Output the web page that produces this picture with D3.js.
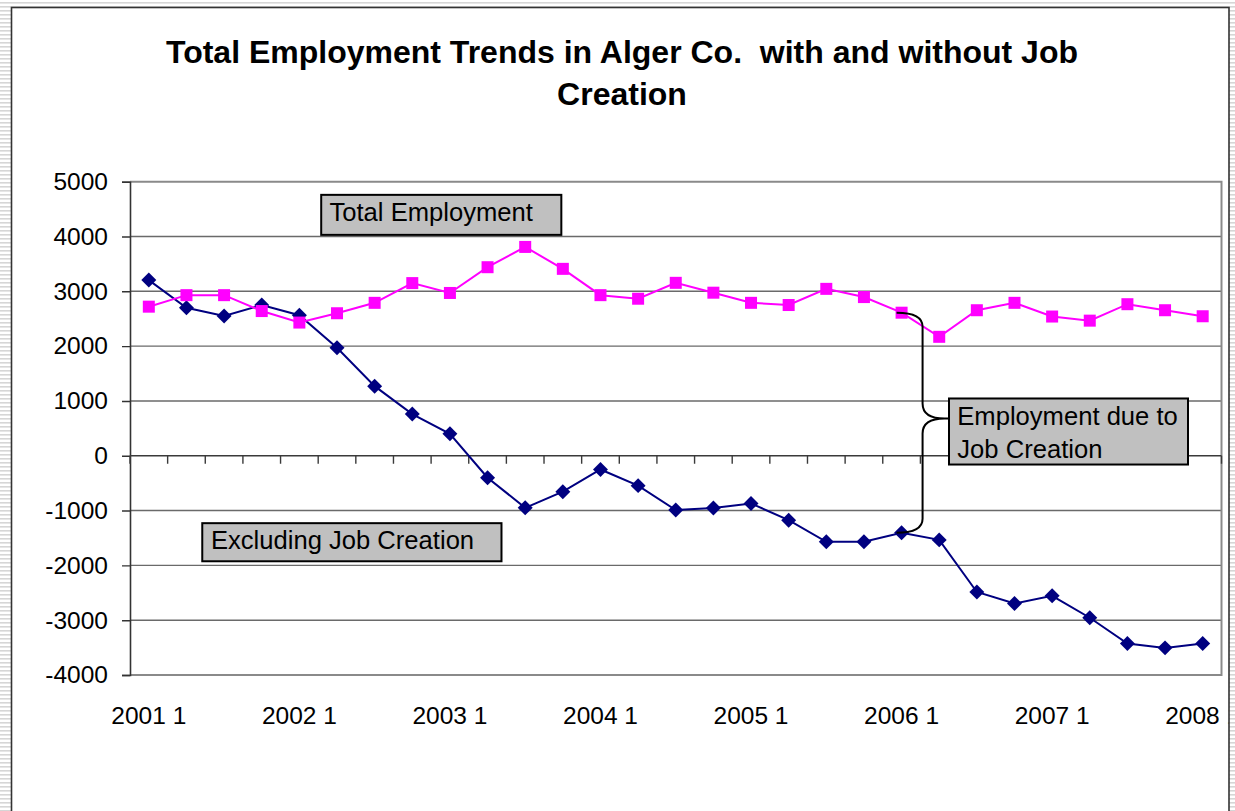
<!DOCTYPE html>
<html>
<head>
<meta charset="utf-8">
<script src="https://cdn.jsdelivr.net/npm/d3@7"></script>
<style>
  html, body { margin: 0; padding: 0; background: #fff; }
  svg { display: block; font-family: "Liberation Sans", Arial, sans-serif; }
</style>
</head>
<body>
<svg id="chart" width="1235" height="811"></svg>
<script>
// ---------------- data ----------------
const categories = [
  "2001 1","2001 2","2001 3","2001 4",
  "2002 1","2002 2","2002 3","2002 4",
  "2003 1","2003 2","2003 3","2003 4",
  "2004 1","2004 2","2004 3","2004 4",
  "2005 1","2005 2","2005 3","2005 4",
  "2006 1","2006 2","2006 3","2006 4",
  "2007 1","2007 2","2007 3","2007 4",
  "2008 1"
];
const totalEmployment = [
  2720, 2930, 2930, 2640, 2430, 2600, 2790, 3150, 2970, 3440,
  3810, 3410, 2930, 2865, 3155, 2975, 2790, 2750, 3045, 2895,
  2610, 2170, 2655, 2790, 2540, 2465, 2765, 2655, 2545
];
const excludingJobCreation = [
  3205, 2700, 2550, 2750, 2565, 1970, 1270, 760, 400, -400,
  -950, -655, -250, -545, -990, -955, -870, -1175, -1570, -1570,
  -1405, -1535, -2485, -2695, -2555, -2955, -3425, -3505, -3425
];
const yTicks = [-4000, -3000, -2000, -1000, 0, 1000, 2000, 3000, 4000, 5000];
const xTickLabels = ["2001 1","2002 1","2003 1","2004 1","2005 1","2006 1","2007 1","2008 1"];
const titleLines = ["Total Employment Trends in Alger Co.  with and without Job", "Creation"];
const seriesLabels = ["Total Employment", "Excluding Job Creation", ["Employment due to", "Job Creation"]];

// ---------------- layout ----------------
const W = 1235, H = 811;
const plot = { left: 130, right: 1221.5, top: 181.7, bottom: 675 };
const svg = d3.select("#chart");

// striped slide background
const defs = svg.append("defs");
const pat = defs.append("pattern").attr("id", "stripes")
  .attr("width", 8).attr("height", 4).attr("patternUnits", "userSpaceOnUse");
pat.append("rect").attr("width", 8).attr("height", 4).attr("fill", "#ffffff");
pat.append("rect").attr("y", 2).attr("width", 8).attr("height", 1.6).attr("fill", "#d6d6d6");
svg.append("rect").attr("width", W).attr("height", H).attr("fill", "url(#stripes)");

// chart frame
svg.append("rect").attr("x", 11.5).attr("y", 7.5).attr("width", 1217.5).attr("height", 830)
  .attr("fill", "#fff").attr("stroke", "#333").attr("stroke-width", 1.6);

defs.append("clipPath").attr("id", "frameClip")
  .append("rect").attr("x", 12.3).attr("y", 8.3).attr("width", 1216).attr("height", 830);
const g = svg.append("g").attr("clip-path", "url(#frameClip)");

// scales
const x = d3.scaleBand().domain(categories).range([plot.left, plot.right]).padding(0);
const xc = d3.scaleLinear().domain([0, categories.length]).range([plot.left, plot.right]);
const y = d3.scaleLinear().domain([-4000, 5000]).range([plot.bottom, plot.top]);
const cx = d => x(d) + x.bandwidth() / 2;

// title
const title = g.append("text").attr("text-anchor", "middle")
  .attr("font-weight", "bold").attr("font-size", 32).style("white-space", "pre");
titleLines.forEach((t, i) => {
  title.append("tspan").attr("x", 622).attr("y", 63 + i * 42).text(t);
});

// gridlines
g.append("g").selectAll("line").data(yTicks.filter(v => v !== -4000 && v !== 5000 && v !== 0))
  .join("line")
  .attr("x1", plot.left).attr("x2", plot.right)
  .attr("y1", d => y(d)).attr("y2", d => y(d))
  .attr("stroke", "#6a6a6a").attr("stroke-width", 1.4);

// plot border (top, right, bottom)
g.append("path")
  .attr("d", `M${plot.left},${y(5000)}H${plot.right}V${y(-4000)}H${plot.left}`)
  .attr("fill", "none").attr("stroke", "#8a8a8a").attr("stroke-width", 2);

// y axis
const yAxis = g.append("g").attr("transform", `translate(${plot.left},0)`)
  .call(d3.axisLeft(y).tickValues(yTicks).tickSize(8).tickPadding(14).tickFormat(d => String(d)));
yAxis.select(".domain").attr("stroke", "#333").attr("stroke-width", 1.6);
yAxis.selectAll(".tick line").attr("stroke", "#333").attr("stroke-width", 1.4);
yAxis.selectAll(".tick text").attr("font-size", 24.5).attr("fill", "#000")
  .attr("font-family", "Liberation Sans, Arial, sans-serif");

// x axis at zero: ticks between categories
const boundaries = d3.range(categories.length + 1);
g.append("line").attr("x1", plot.left).attr("x2", plot.right)
  .attr("y1", y(0)).attr("y2", y(0)).attr("stroke", "#3a3a3a").attr("stroke-width", 1.5);
g.append("g").selectAll("line").data(boundaries).join("line")
  .attr("x1", d => xc(d)).attr("x2", d => xc(d))
  .attr("y1", y(0)).attr("y2", y(0) + 8)
  .attr("stroke", "#3a3a3a").attr("stroke-width", 1.4);

// x labels at the bottom
g.append("g").selectAll("text").data(xTickLabels).join("text")
  .attr("x", d => cx(d)).attr("y", 724)
  .attr("text-anchor", "middle").attr("font-size", 24.5).attr("fill", "#000")
  .style("white-space", "pre").text(d => d);

// series lines
const line = d3.line().x((d, i) => cx(categories[i])).y(d => y(d));
g.append("path").datum(excludingJobCreation).attr("d", line)
  .attr("fill", "none").attr("stroke", "#000080").attr("stroke-width", 2);
g.append("g").selectAll("path").data(excludingJobCreation).join("path")
  .attr("d", d3.symbol(d3.symbolSquare, 112)())
  .attr("transform", (d, i) => `translate(${cx(categories[i])},${y(d)}) rotate(45)`)
  .attr("fill", "#000080");

g.append("path").datum(totalEmployment).attr("d", line)
  .attr("fill", "none").attr("stroke", "#ff00ff").attr("stroke-width", 2);
g.append("g").selectAll("rect").data(totalEmployment).join("rect")
  .attr("x", (d, i) => cx(categories[i]) - 6).attr("y", d => y(d) - 6)
  .attr("width", 12).attr("height", 12).attr("fill", "#ff00ff");

// brace annotation between the two series at 2006 1
const bi = categories.indexOf("2006 1");
const xa = cx(categories[bi]) - 5;
const xv = cx(categories[bi]) + 21;
const yTop = y(totalEmployment[bi]);
const yBot = y(excludingJobCreation[bi]);
const yTip = y(680);
const xTip = xv + 22;
g.append("path")
  .attr("d", `M${xa},${yTop} Q${xv},${yTop} ${xv},${yTop + 14} L${xv},${yTip - 15} Q${xv},${yTip} ${xTip},${yTip}`
    + ` L${xTip + 6},${yTip} M${xTip},${yTip} Q${xv},${yTip} ${xv},${yTip + 15} L${xv},${yBot - 14} Q${xv},${yBot} ${xa},${yBot}`)
  .attr("fill", "none").attr("stroke", "#000").attr("stroke-width", 2);

// label boxes
function labelBox(x0, x1, y0, y1, lines, tx, baselines) {
  g.append("rect").attr("x", x0).attr("y", y0).attr("width", x1 - x0).attr("height", y1 - y0)
    .attr("fill", "#c0c0c0").attr("stroke", "#000").attr("stroke-width", 2);
  lines.forEach((t, i) => {
    g.append("text").attr("x", tx).attr("y", baselines[i]).attr("font-size", 25.6)
      .attr("fill", "#000").text(t);
  });
}
labelBox(xc(5.08), xc(11.46), y(4760), y(4030), [seriesLabels[0]], xc(5.3), [y(4283)]);
labelBox(xc(1.92), xc(9.87), y(-1230), y(-1925), [seriesLabels[1]], xc(2.15), [y(-1708)]);
labelBox(xc(21.76), xc(28.11), y(1045), y(-160), seriesLabels[2], xc(21.98), [y(560), y(-40)]);
</script>
</body>
</html>
